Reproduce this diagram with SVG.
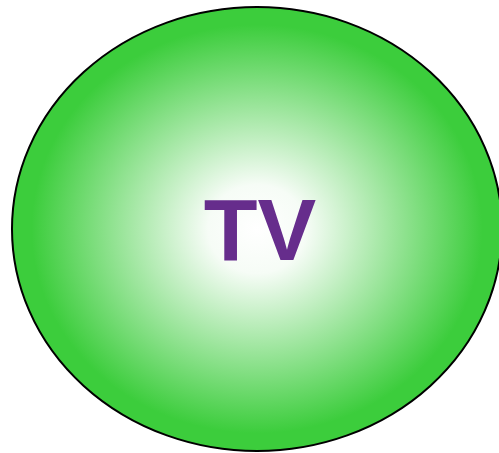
<svg xmlns="http://www.w3.org/2000/svg" width="499" height="453" viewBox="0 0 499 453">
<defs>
<radialGradient id="g" cx="0.5" cy="0.5" r="0.5">
<stop offset="0" stop-color="#ffffff"/>
<stop offset="0.2" stop-color="#f6fcf6"/>
<stop offset="0.92" stop-color="#3ccd3c"/>
<stop offset="1" stop-color="#3ccd3c"/>
</radialGradient>
<style>
.lbl{font-family:"Liberation Sans",Arial,sans-serif;font-weight:bold;font-size:88px;fill:#662d8c;text-anchor:middle}
</style>
</defs>
<g id="tv">
<ellipse cx="257" cy="229" rx="245" ry="222" fill="url(#g)" stroke="#000" stroke-width="2"/>
<text class="lbl" x="260" y="260">TV</text>
</g>
</svg>
